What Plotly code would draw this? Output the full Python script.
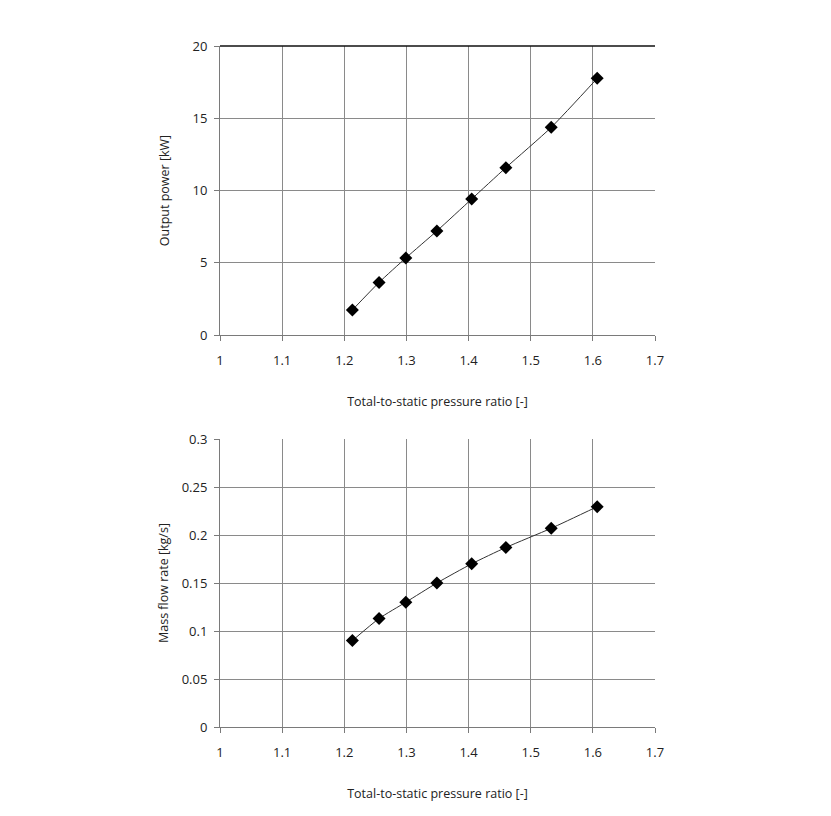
import plotly.graph_objects as go

pressure_ratio = [1.213, 1.256, 1.299, 1.349, 1.405, 1.460, 1.533, 1.607]
output_power_kw = [1.73, 3.64, 5.33, 7.20, 9.41, 11.58, 14.37, 17.76]
mass_flow_kgs = [0.090, 0.113, 0.130, 0.150, 0.170, 0.187, 0.207, 0.2295]

x_ticks = [1, 1.1, 1.2, 1.3, 1.4, 1.5, 1.6, 1.7]
x_tick_text = ["1", "1.1", "1.2", "1.3", "1.4", "1.5", "1.6", "1.7"]
power_ticks = [0, 5, 10, 15, 20]
flow_ticks = [0, 0.05, 0.1, 0.15, 0.2, 0.25, 0.3]
flow_tick_text = ["0", "0.05", "0.1", "0.15", "0.2", "0.25", "0.3"]

W, H = 831, 816
OFF = 8  # page body margin
FONT = "Open Sans, Liberation Sans, sans-serif"
GRID = "#8a8a8a"
AXIS = "#7a7a7a"
TXT = "#222222"

fig = go.Figure()

marker = dict(symbol="diamond", size=10, color="black")
line = dict(color="#333333", width=1, shape="spline", smoothing=0.6)

fig.add_trace(go.Scatter(x=pressure_ratio, y=output_power_kw, mode="lines+markers",
                         marker=marker, line=line, xaxis="x", yaxis="y", showlegend=False))
fig.add_trace(go.Scatter(x=pressure_ratio, y=mass_flow_kgs, mode="lines+markers",
                         marker=marker, line=line, xaxis="x2", yaxis="y2", showlegend=False))

xd = [(220 - OFF) / W, (655 - OFF) / W]
top_dom = [1 - (335 - OFF) / H, 1 - (46 - OFF) / H]
bot_dom = [1 - (727 - OFF) / H, 1 - (439 - OFF) / H]

common_x = dict(range=[1, 1.7], tickvals=x_ticks, ticktext=x_tick_text, showgrid=True,
                gridcolor=GRID, gridwidth=1, showline=True, linecolor=AXIS, linewidth=1,
                ticks="outside", ticklen=5, tickcolor=AXIS, zeroline=False, automargin=False,
                ticklabelstandoff=8,
                tickfont=dict(family=FONT, size=13, color=TXT),
                title=dict(text="Total-to-static pressure ratio [-]",
                           font=dict(family=FONT, size=12.5, color=TXT), standoff=29),
                domain=xd, fixedrange=True)
common_y = dict(showgrid=True, gridcolor=GRID, gridwidth=1, showline=True, linecolor=AXIS,
                linewidth=1, ticks="outside", ticklen=5, tickcolor=AXIS, zeroline=False,
                automargin=False, ticklabelstandoff=4,
                tickfont=dict(family=FONT, size=13, color=TXT), fixedrange=True)

fig.update_layout(
    width=W, height=H,
    margin=dict(l=0, r=0, t=0, b=0),
    paper_bgcolor="white", plot_bgcolor="white",
    xaxis=dict(common_x, anchor="y"),
    yaxis=dict(common_y, range=[0, 20], tickvals=power_ticks, domain=top_dom, anchor="x",
               title=dict(text="Output power [kW]", font=dict(family=FONT, size=12.5, color=TXT),
                          standoff=20)),
    xaxis2=dict(common_x, anchor="y2"),
    yaxis2=dict(common_y, range=[0, 0.3], tickvals=flow_ticks, ticktext=flow_tick_text,
                domain=bot_dom, anchor="x2",
                title=dict(text="Mass flow rate [kg/s]", font=dict(family=FONT, size=12.5, color=TXT),
                           standoff=10)),
    shapes=[dict(type="line", xref="x domain", yref="y domain", x0=0, x1=1, y0=1, y1=1,
                 line=dict(color="#111111", width=1.5), layer="above")],
)

fig.write_html("out.html")
